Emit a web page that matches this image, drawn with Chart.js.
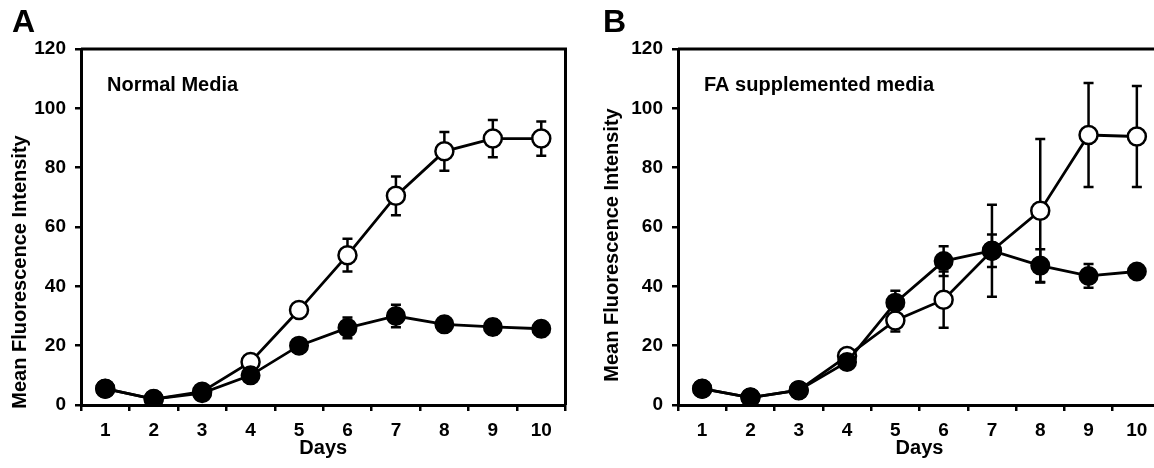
<!DOCTYPE html>
<html>
<head>
<meta charset="utf-8">
<script src="https://cdn.jsdelivr.net/npm/chart.js@4.4.1/dist/chart.umd.min.js"></script>
<style>
  html, body { margin: 0; padding: 0; background: #fff; overflow: hidden; }
  #wrap { position: relative; width: 1154px; height: 468px; overflow: hidden; }
  canvas { position: absolute; top: 0; }
  #chartA { left: 0; }
  #chartB { left: 577px; }
</style>
</head>
<body>
<div id="wrap">
  <canvas id="chartA" width="577" height="468"></canvas>
  <canvas id="chartB" width="600" height="468"></canvas>
</div>
<script>
const days = ['1', '2', '3', '4', '5', '6', '7', '8', '9', '10'];
const yTicks = [0, 20, 40, 60, 80, 100, 120];

// panel A - normal media
const normalOpen = [5.5, 2, 4.5, 14.5, 32, 50.5, 70.5, 85.5, 89.8, 89.8];
const normalOpenErr = [0.5, 0.5, 0.5, 1, 1.5, 5.5, 6.5, 6.5, 6.3, 5.8];
const normalFilled = [5.5, 2, 4, 10, 20, 26, 30, 27.2, 26.3, 25.7];
const normalFilledErr = [0.5, 0.5, 0.5, 1, 1.5, 3.5, 3.8, 2.5, 2.5, 2.5];

// panel B - FA supplemented media
const faOpen = [5.5, 2.5, 5, 16.5, 28.5, 35.5, 52, 65.5, 91, 90.5];
const faOpenErr = [0.5, 0.5, 0.5, 1, 3.7, 9.5, 15.5, 24.2, 17.5, 17];
const faFilled = [5.5, 2.5, 5, 14.5, 34.5, 48.5, 52, 47, 43.5, 45];
const faFilledErr = [0.5, 0.5, 0.5, 1, 4, 5, 5.5, 5.5, 4, 0.5];

const FONT = "'Liberation Sans', Arial, sans-serif";

const errorBars = {
  id: 'errorBars',
  beforeDatasetsDraw(chart) {
    const ctx = chart.ctx;
    const y = chart.scales.y;
    ctx.save();
    ctx.strokeStyle = '#000';
    ctx.lineWidth = 2.5;
    chart.data.datasets.forEach((ds, di) => {
      const meta = chart.getDatasetMeta(di);
      meta.data.forEach((pt, i) => {
        const e = ds.errors[i];
        const top = y.getPixelForValue(ds.data[i] + e);
        const bot = y.getPixelForValue(ds.data[i] - e);
        ctx.beginPath();
        ctx.moveTo(pt.x, top); ctx.lineTo(pt.x, bot);
        ctx.moveTo(pt.x - 5, top); ctx.lineTo(pt.x + 5, top);
        ctx.moveTo(pt.x - 5, bot); ctx.lineTo(pt.x + 5, bot);
        ctx.stroke();
      });
    });
    ctx.restore();
  }
};

const frameAndText = {
  id: 'frameAndText',
  afterDraw(chart, args, opts) {
    const ctx = chart.ctx;
    const a = chart.chartArea;
    ctx.save();
    ctx.strokeStyle = '#000';
    ctx.lineWidth = 3;
    ctx.beginPath();
    ctx.moveTo(a.left, a.top);
    ctx.lineTo(a.right, a.top);
    ctx.lineTo(a.right, a.bottom);
    ctx.stroke();
    ctx.fillStyle = '#000';
    ctx.textBaseline = 'middle';
    ctx.font = 'bold 32px ' + FONT;
    ctx.fillText(opts.letter, opts.letterX, 23);
    ctx.font = 'bold 20px ' + FONT;
    ctx.fillText(opts.label, a.left + 26, 85);
    // rotated y-axis title
    ctx.translate(opts.titleX, opts.titleY);
    ctx.rotate(-Math.PI / 2);
    ctx.textAlign = 'center';
    ctx.fillText('Mean Fluorescence Intensity', 0, 0);
    ctx.restore();
  }
};

function makeChart(id, openVals, openErr, filledVals, filledErr, axisWidth, rightPad, letter, letterX, label, titleX, titleY) {
  return new Chart(document.getElementById(id), {
    type: 'line',
    data: {
      labels: days,
      datasets: [
        {
          data: filledVals, errors: filledErr,
          borderColor: '#000', backgroundColor: '#000', borderWidth: 2.8,
          pointRadius: 9, pointBorderWidth: 2, pointBackgroundColor: '#000', pointBorderColor: '#000'
        },
        {
          data: openVals, errors: openErr,
          borderColor: '#000', backgroundColor: '#fff', borderWidth: 2.8,
          pointRadius: 9, pointBorderWidth: 2.5, pointBackgroundColor: '#fff', pointBorderColor: '#000'
        }
      ]
    },
    options: {
      responsive: false,
      animation: false,
      layout: { padding: { left: 0, top: 49, right: rightPad, bottom: 0 } },
      plugins: {
        legend: { display: false },
        tooltip: { enabled: false },
        frameAndText: { letter: letter, letterX: letterX, label: label, titleX: titleX, titleY: titleY }
      },
      scales: {
        x: {
          type: 'category',
          offset: true,
          grid: { offset: true, drawOnChartArea: false, drawTicks: true, tickLength: 6, color: '#000', lineWidth: 2.5 },
          border: { display: true, color: '#000', width: 3 },
          ticks: { color: '#000', padding: 8, font: { family: FONT, size: 19, weight: 'bold' } },
          title: { display: true, text: 'Days', color: '#000', padding: { top: 0, bottom: 8 }, font: { family: FONT, size: 20, weight: 'bold' } },
          afterFit: s => { s.height = 63; }
        },
        y: {
          min: 0, max: 120,
          afterBuildTicks: s => { s.ticks = yTicks.map(v => ({ value: v })); },
          grid: { drawOnChartArea: false, drawTicks: true, tickLength: 6, color: '#000', lineWidth: 2.5 },
          border: { display: true, color: '#000', width: 3 },
          ticks: { color: '#000', padding: 9, font: { family: FONT, size: 19, weight: 'bold' } },
          afterFit: s => { s.width = axisWidth; }
        }
      }
    },
    plugins: [errorBars, frameAndText]
  });
}

makeChart('chartA', normalOpen, normalOpenErr, normalFilled, normalFilledErr, 81, 11, 'A', 12, 'Normal Media', 20, 272);
makeChart('chartB', faOpen, faOpenErr, faFilled, faFilledErr, 101, 16, 'B', 26, 'FA supplemented media', 35, 245);
</script>
</body>
</html>
